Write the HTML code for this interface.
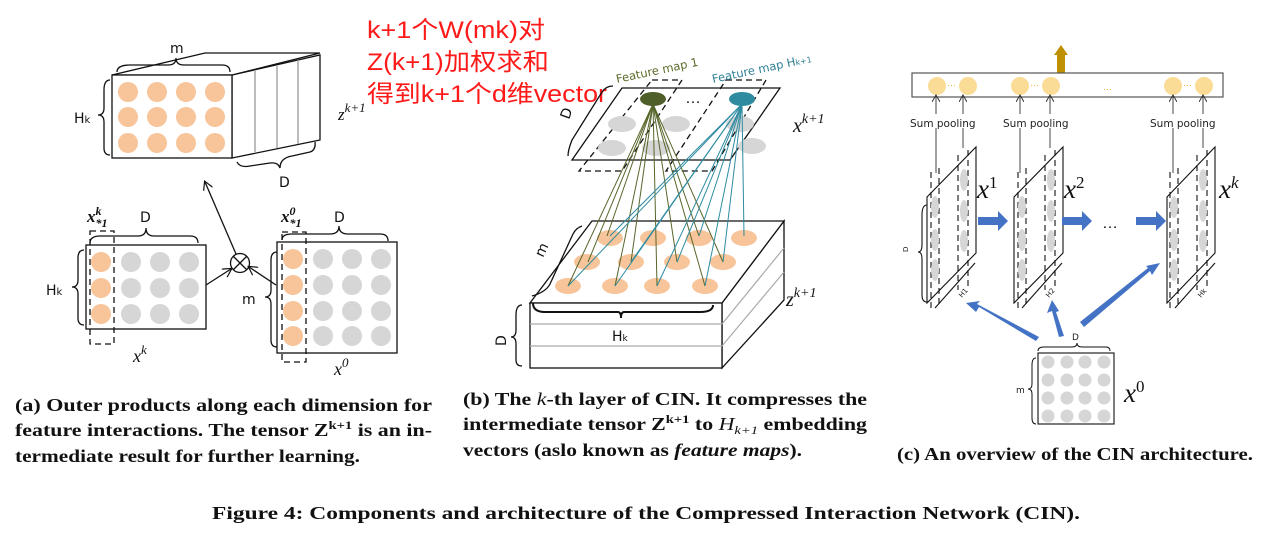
<!DOCTYPE html>
<html><head><meta charset="utf-8"><style>
html,body{margin:0;padding:0;background:#fff;}
svg{display:block;}
.cap{font-family:"Liberation Serif",serif;font-weight:bold;font-size:18px;fill:#111;}
.lbl{font-family:"DejaVu Sans","Liberation Sans",sans-serif;font-size:14px;fill:#111;}
.mx{font-family:"Liberation Serif",serif;font-style:italic;fill:#111;}
</style></head><body>
<svg width="1284" height="544" viewBox="0 0 1284 544" xmlns="http://www.w3.org/2000/svg">
<defs>
<marker id="ah" markerWidth="10" markerHeight="10" refX="8" refY="5" orient="auto" markerUnits="userSpaceOnUse"><path d="M0,0 L9,5 L0,10" fill="none" stroke="#111" stroke-width="1.2"/></marker>
<marker id="ah2" markerWidth="8" markerHeight="8" refX="7" refY="4" orient="auto" markerUnits="userSpaceOnUse"><path d="M0,0 L7,4 L0,8" fill="none" stroke="#333" stroke-width="1"/></marker>
</defs>

<!-- ===== Panel (a) ===== -->
<g stroke="#111" stroke-width="1.3" fill="none">
<polygon points="232,75 320,55 320,140 232,158" fill="#fff"/>
<polygon points="112,75 205,53 320,53 232,75" fill="#fff"/>
<line x1="255" y1="70" x2="255" y2="152" stroke="#999"/>
<line x1="277" y1="65" x2="277" y2="148" stroke="#999"/>
<line x1="298" y1="60" x2="298" y2="144" stroke="#999"/>
<rect x="112" y="75" width="120" height="83" fill="#fff"/>
<path d="M117,72 Q117,65 130,65 L168,65 Q176,65 176,58 Q176,65 184,65 L222,65 Q230,65 230,72"/>
<path d="M110,80 Q104,80 104,90 L104,108 Q104,115 98,115 Q104,115 104,122 L104,148 Q104,155 110,155"/>
<path d="M237,162 Q240,168 250,166 L270,163 Q278,162 280,168 Q280,158 292,156 L310,152 Q316,150 315,142"/>
</g>
<g fill="#f8c49a">
<circle cx="128" cy="92" r="10"/><circle cx="157" cy="92" r="10"/><circle cx="186" cy="92" r="10"/><circle cx="215" cy="92" r="10"/>
<circle cx="128" cy="117" r="10"/><circle cx="157" cy="117" r="10"/><circle cx="186" cy="117" r="10"/><circle cx="215" cy="117" r="10"/>
<circle cx="128" cy="143" r="10"/><circle cx="157" cy="143" r="10"/><circle cx="186" cy="143" r="10"/><circle cx="215" cy="143" r="10"/>
</g>
<text x="170" y="53" class="lbl" font-size="15">m</text>
<text x="74" y="123" class="lbl" font-size="15">H<tspan font-size="10">k</tspan></text>
<text x="279" y="187" class="lbl" font-size="15">D</text>
<text x="338" y="120" class="mx" font-size="17">z<tspan dy="-8" font-size="13">k+1</tspan></text>

<g stroke="#111" stroke-width="1.3" fill="none">
<rect x="86" y="245" width="120" height="84"/>
<rect x="90" y="231" width="24" height="113" stroke-dasharray="6,4"/>
<path d="M90,243 Q90,236 100,236 L138,236 Q146,236 146,228 Q146,236 154,236 L190,236 Q198,236 198,243"/>
<path d="M84,250 Q78,250 78,258 L78,280 Q78,287 72,287 Q78,287 78,294 L78,318 Q78,325 84,325"/>
<rect x="277" y="242" width="120" height="111"/>
<rect x="282" y="232" width="24" height="130" stroke-dasharray="6,4"/>
<path d="M282,240 Q282,234 292,234 L330,234 Q339,234 339,226 Q339,234 348,234 L380,234 Q388,234 388,241"/>
<path d="M277,252 Q271,252 271,260 L271,290 Q271,297 265,297 Q271,297 271,304 L271,340 Q271,347 277,347"/>
<circle cx="240" cy="263" r="9.5"/>
<line x1="233" y1="256" x2="247" y2="270"/><line x1="247" y1="256" x2="233" y2="270"/>
<line x1="206" y1="285" x2="231" y2="269" marker-end="url(#ah)"/>
<line x1="276" y1="285" x2="249" y2="267" marker-end="url(#ah)"/>
<line x1="236" y1="254" x2="205" y2="182" marker-end="url(#ah)"/>
</g>
<g fill="#f8c49a"><circle cx="101" cy="262" r="10"/><circle cx="101" cy="288" r="10"/><circle cx="101" cy="314" r="10"/>
<circle cx="293" cy="259" r="10"/><circle cx="293" cy="285" r="10"/><circle cx="293" cy="311" r="10"/><circle cx="293" cy="336" r="10"/></g>
<g fill="#d6d6d6">
<circle cx="131" cy="262" r="10"/><circle cx="160" cy="262" r="10"/><circle cx="189" cy="262" r="10"/>
<circle cx="131" cy="288" r="10"/><circle cx="160" cy="288" r="10"/><circle cx="189" cy="288" r="10"/>
<circle cx="131" cy="314" r="10"/><circle cx="160" cy="314" r="10"/><circle cx="189" cy="314" r="10"/>
<circle cx="323" cy="259" r="10"/><circle cx="352" cy="259" r="10"/><circle cx="381" cy="259" r="10"/>
<circle cx="323" cy="285" r="10"/><circle cx="352" cy="285" r="10"/><circle cx="381" cy="285" r="10"/>
<circle cx="323" cy="311" r="10"/><circle cx="352" cy="311" r="10"/><circle cx="381" cy="311" r="10"/>
<circle cx="323" cy="336" r="10"/><circle cx="352" cy="336" r="10"/><circle cx="381" cy="336" r="10"/>
</g>
<text x="87" y="222" class="mx" font-weight="bold" font-size="17">x<tspan dy="-7" font-size="12">k</tspan><tspan dx="-6" dy="12" font-size="12">*1</tspan></text>
<text x="140" y="222" class="lbl" font-size="15">D</text>
<text x="46" y="295" class="lbl" font-size="15">H<tspan font-size="10">k</tspan></text>
<text x="133" y="362" class="mx" font-size="18">x<tspan dy="-8" font-size="13">k</tspan></text>
<text x="281" y="222" class="mx" font-weight="bold" font-size="17">x<tspan dy="-7" font-size="12">0</tspan><tspan dx="-6" dy="12" font-size="12">*1</tspan></text>
<text x="334" y="222" class="lbl" font-size="15">D</text>
<text x="242" y="304" class="lbl" font-size="15">m</text>
<text x="334" y="375" class="mx" font-size="18">x<tspan dy="-8" font-size="13">0</tspan></text>

<g font-family="'Liberation Sans','Noto Sans CJK SC',sans-serif" font-size="24" fill="#ff1a1a">
<text x="367" y="38" textLength="178" lengthAdjust="spacingAndGlyphs">k+1个W(mk)对</text>
<text x="367" y="70" textLength="182" lengthAdjust="spacingAndGlyphs">Z(k+1)加权求和</text>
<text x="367" y="102" textLength="240" lengthAdjust="spacingAndGlyphs">得到k+1个d维vector</text>
</g>

<!-- ===== Panel (b) ===== -->
<g stroke="#111" stroke-width="1.3" fill="none">
<polygon points="622,88 780,88 730,160 572,160" fill="#fff"/>
<polygon points="652,80 682,80 622,171 579,171" stroke-dasharray="6,4"/>
<polygon points="726,80 766,80 712,171 666,171" stroke-dasharray="6,4"/>
<path d="M613,86 Q606,86 602,92 L572,140 Q568,150 568,156"/>
</g>
<g fill="#d6d6d6">
<ellipse cx="622" cy="124" rx="14" ry="8"/><ellipse cx="676" cy="124" rx="14" ry="8"/><ellipse cx="740" cy="124" rx="14" ry="8"/>
<ellipse cx="612" cy="148" rx="14" ry="8"/><ellipse cx="656" cy="148" rx="14" ry="8"/><ellipse cx="752" cy="146" rx="14" ry="8"/>
</g>
<text x="685" y="103" font-family="Liberation Sans,sans-serif" font-size="16" fill="#111">…</text>
<text x="617" y="83" transform="rotate(-12 617 83)" font-family="DejaVu Sans,sans-serif" font-size="11.5" fill="#5a6a2a">Feature map 1</text>
<text x="713" y="83" transform="rotate(-12 713 83)" font-family="DejaVu Sans,sans-serif" font-size="11.5" fill="#2e7f95">Feature map H<tspan font-size="8">k+1</tspan></text>
<text x="569" y="120" transform="rotate(-70 569 120)" class="lbl" font-size="13">D</text>
<text x="793" y="132" class="mx" font-size="20">x<tspan dy="-9" font-size="14">k+1</tspan></text>

<g stroke="#111" stroke-width="1.3" fill="#fff">
<polygon points="722,303 784,221 784,300 722,368"/>
<polygon points="592,221 784,221 722,303 530,303"/>
<rect x="530" y="303" width="192" height="65"/>
</g>
<g stroke="#aaa" stroke-width="1.2"><line x1="530" y1="324" x2="722" y2="324"/><line x1="530" y1="346" x2="722" y2="346"/>
<line x1="722" y1="324" x2="784" y2="248"/><line x1="722" y1="346" x2="784" y2="272"/></g>
<g fill="#f8c49a">
<ellipse cx="610" cy="238" rx="13" ry="8"/><ellipse cx="653" cy="238" rx="13" ry="8"/><ellipse cx="699" cy="238" rx="13" ry="8"/><ellipse cx="744" cy="238" rx="13" ry="8"/>
<ellipse cx="587" cy="262" rx="13" ry="8"/><ellipse cx="631" cy="262" rx="13" ry="8"/><ellipse cx="677" cy="262" rx="13" ry="8"/><ellipse cx="723" cy="262" rx="13" ry="8"/>
<ellipse cx="568" cy="286" rx="13" ry="8"/><ellipse cx="615" cy="286" rx="13" ry="8"/><ellipse cx="657" cy="286" rx="13" ry="8"/><ellipse cx="705" cy="286" rx="13" ry="8"/>
</g>
<g stroke="#56662a" stroke-width="1">
<line x1="653" y1="104" x2="607" y2="236"/><line x1="653" y1="104" x2="588" y2="262"/><line x1="653" y1="104" x2="568" y2="286"/>
<line x1="653" y1="104" x2="615" y2="286"/><line x1="653" y1="104" x2="657" y2="286"/><line x1="653" y1="104" x2="677" y2="262"/>
<line x1="653" y1="104" x2="705" y2="286"/><line x1="653" y1="104" x2="723" y2="262"/><line x1="653" y1="104" x2="631" y2="262"/>
<line x1="653" y1="104" x2="699" y2="236"/>
</g>
<g stroke="#2e8ba0" stroke-width="1">
<line x1="742" y1="104" x2="568" y2="286"/><line x1="742" y1="104" x2="610" y2="236"/><line x1="742" y1="104" x2="615" y2="286"/>
<line x1="742" y1="104" x2="631" y2="262"/><line x1="742" y1="104" x2="657" y2="286"/><line x1="742" y1="104" x2="677" y2="262"/>
<line x1="742" y1="104" x2="699" y2="236"/><line x1="742" y1="104" x2="723" y2="262"/><line x1="742" y1="104" x2="744" y2="236"/>
<line x1="742" y1="104" x2="705" y2="286"/>
</g>
<ellipse cx="653" cy="99" rx="13" ry="7" fill="#4f5f2a"/>
<ellipse cx="742" cy="99" rx="13" ry="7" fill="#2e8ba0"/>
<g stroke="#111" stroke-width="1.3" fill="none">
<path d="M533,303 Q533,312 545,312 L618,312 Q621,312 621,318 Q621,312 624,312 L700,312 Q713,312 713,305" stroke-width="2"/>
<path d="M582,226 Q576,228 573,234 L550,284 Q546,292 532,296"/>
<path d="M522,305 Q516,305 516,315 L516,330 Q516,337 511,337 Q516,337 516,344 L516,360 Q516,366 522,366"/>
</g>
<text x="612" y="341" class="lbl" font-size="14">H<tspan font-size="9">k</tspan></text>
<text x="543" y="258" transform="rotate(-65 543 258)" class="lbl" font-size="15">m</text>
<text x="506" y="346" transform="rotate(-90 506 346)" class="lbl" font-size="13">D</text>
<text x="786" y="306" class="mx" font-size="20">z<tspan dy="-9" font-size="14">k+1</tspan></text>

<!-- ===== Panel (c) ===== -->
<polygon points="1057,73 1057,55 1054,55 1061,45 1068,55 1065,55 1065,73" fill="#bf9000"/>
<rect x="912" y="73" width="311" height="24" fill="#fff" stroke="#555" stroke-width="1.2"/>
<g fill="#fbdc96">
<circle cx="937" cy="86" r="9"/><circle cx="968" cy="86" r="9"/><circle cx="1020" cy="86" r="9"/><circle cx="1051" cy="86" r="9"/><circle cx="1173" cy="86" r="9"/><circle cx="1204" cy="86" r="9"/>
</g>
<g fill="#f0b030" font-family="Liberation Sans,sans-serif" font-size="9"><text x="947" y="88">···</text><text x="1030" y="88">···</text><text x="1183" y="88">···</text><text x="1103" y="92">···</text></g>
<g stroke="#444" stroke-width="1" marker-end="url(#ah2)">
<line x1="936" y1="173" x2="936" y2="95"/><line x1="963" y1="148" x2="963" y2="95"/>
<line x1="1020" y1="173" x2="1020" y2="95"/><line x1="1050" y1="148" x2="1050" y2="95"/>
<line x1="1173" y1="173" x2="1173" y2="95"/><line x1="1203" y1="148" x2="1203" y2="95"/>
</g>
<g font-family="DejaVu Sans,sans-serif" font-size="10.5" fill="#222">
<rect x="908" y="114" width="86" height="14" fill="#fff"/><text x="910" y="127">Sum pooling</text>
<rect x="1001" y="114" width="86" height="14" fill="#fff"/><text x="1003" y="127">Sum pooling</text>
<rect x="1148" y="114" width="86" height="14" fill="#fff"/><text x="1150" y="127">Sum pooling</text>
</g>
<g stroke="#111" fill="none" stroke-width="1.1">
<line x1="931" y1="172" x2="931" y2="310" stroke-dasharray="6,4"/><line x1="939" y1="168" x2="939" y2="308" stroke-dasharray="6,4"/>
<line x1="958" y1="155" x2="958" y2="290" stroke-dasharray="6,4"/><line x1="968" y1="150" x2="968" y2="286" stroke-dasharray="6,4"/>
<polygon points="927,197 976,147 976,253 927,303" fill="none"/>
</g>
<g fill="#d6d6d6">
<ellipse cx="935" cy="207" rx="4" ry="11"/><ellipse cx="935" cy="240" rx="4" ry="11"/><ellipse cx="935" cy="270" rx="4" ry="11"/>
<ellipse cx="964" cy="180" rx="4" ry="11"/><ellipse cx="964" cy="211" rx="4" ry="11"/><ellipse cx="964" cy="241" rx="4" ry="11"/>
</g>
<g stroke="#111" fill="none" stroke-width="1.1">
<line x1="1018" y1="172" x2="1018" y2="310" stroke-dasharray="6,4"/><line x1="1026" y1="168" x2="1026" y2="308" stroke-dasharray="6,4"/>
<line x1="1045" y1="155" x2="1045" y2="290" stroke-dasharray="6,4"/><line x1="1055" y1="150" x2="1055" y2="286" stroke-dasharray="6,4"/>
<polygon points="1014,197 1063,147 1063,253 1014,303"/>
<line x1="1170" y1="172" x2="1170" y2="310" stroke-dasharray="6,4"/><line x1="1178" y1="168" x2="1178" y2="308" stroke-dasharray="6,4"/>
<line x1="1197" y1="155" x2="1197" y2="290" stroke-dasharray="6,4"/><line x1="1207" y1="150" x2="1207" y2="286" stroke-dasharray="6,4"/>
<polygon points="1167,197 1215,147 1215,253 1167,303"/>
<path d="M927,205 Q922,205 922,215 L922,245 Q922,252 918,252 Q922,252 922,259 L922,295 Q922,302 927,302"/>
<path d="M935,308 L975,263" /><path d="M1022,308 L1062,263"/><path d="M1175,308 L1215,263"/>
</g>
<g fill="#d6d6d6">
<ellipse cx="1022" cy="207" rx="4" ry="11"/><ellipse cx="1022" cy="240" rx="4" ry="11"/><ellipse cx="1022" cy="270" rx="4" ry="11"/>
<ellipse cx="1051" cy="180" rx="4" ry="11"/><ellipse cx="1051" cy="211" rx="4" ry="11"/><ellipse cx="1051" cy="241" rx="4" ry="11"/>
<ellipse cx="1174" cy="207" rx="4" ry="11"/><ellipse cx="1174" cy="240" rx="4" ry="11"/><ellipse cx="1174" cy="270" rx="4" ry="11"/>
<ellipse cx="1203" cy="180" rx="4" ry="11"/><ellipse cx="1203" cy="211" rx="4" ry="11"/><ellipse cx="1203" cy="241" rx="4" ry="11"/>
</g>
<g font-family="DejaVu Sans,sans-serif" font-size="7" fill="#222">
<text x="908" y="252" transform="rotate(-90 908 252)">D</text>
<text x="962" y="298" transform="rotate(-50 962 298)">H1</text>
<text x="1049" y="298" transform="rotate(-50 1049 298)">H2</text>
<text x="1201" y="298" transform="rotate(-50 1201 298)">Hk</text>
</g>
<text x="977" y="198" class="mx" font-size="27">x<tspan dy="-10" font-size="17" font-style="normal">1</tspan></text>
<text x="1064" y="198" class="mx" font-size="27">x<tspan dy="-10" font-size="17" font-style="normal">2</tspan></text>
<text x="1219" y="198" class="mx" font-size="27">x<tspan dy="-10" font-size="17">k</tspan></text>
<g fill="#4472c4">
<polygon points="978,217 998,217 998,211 1008,221 998,231 998,225 978,225"/>
<polygon points="1062,217 1082,217 1082,211 1092,221 1082,231 1082,225 1062,225"/>
<polygon points="1136,217 1156,217 1156,211 1166,221 1156,231 1156,225 1136,225"/>
<polygon points="1036,341 979,307 976,312 966,303 980,301 977,304 1039,337" />
<polygon points="1059,337 1052,311 1047,313 1052,300 1059,311 1056,312 1064,336"/>
<polygon points="1084,327 1150,271 1152,275 1160,263 1146,266 1148,268 1080,322"/>
</g>
<text x="1102" y="228" font-family="Liberation Sans,sans-serif" font-size="16" fill="#111">…</text>
<rect x="1038" y="353" width="76" height="71" fill="#fff" stroke="#111" stroke-width="1.1"/>
<g fill="#d6d6d6">
<circle cx="1048" cy="362" r="6.5"/><circle cx="1067" cy="362" r="6.5"/><circle cx="1085" cy="362" r="6.5"/><circle cx="1104" cy="362" r="6.5"/>
<circle cx="1048" cy="380" r="6.5"/><circle cx="1067" cy="380" r="6.5"/><circle cx="1085" cy="380" r="6.5"/><circle cx="1104" cy="380" r="6.5"/>
<circle cx="1048" cy="398" r="6.5"/><circle cx="1067" cy="398" r="6.5"/><circle cx="1085" cy="398" r="6.5"/><circle cx="1104" cy="398" r="6.5"/>
<circle cx="1048" cy="416" r="6.5"/><circle cx="1067" cy="416" r="6.5"/><circle cx="1085" cy="416" r="6.5"/><circle cx="1104" cy="416" r="6.5"/>
</g>
<g stroke="#111" fill="none" stroke-width="1">
<path d="M1038,351 Q1038,347 1044,347 L1072,347 Q1077,347 1077,343 Q1077,347 1082,347 L1106,347 Q1110,347 1110,351"/>
<path d="M1036,358 Q1032,358 1032,365 L1032,384 Q1032,389 1028,389 Q1032,389 1032,394 L1032,418 Q1032,424 1036,424"/>
</g>
<text x="1072" y="340" font-family="DejaVu Sans,sans-serif" font-size="9" fill="#222">D</text>
<text x="1016" y="393" font-family="DejaVu Sans,sans-serif" font-size="9" fill="#222">m</text>
<text x="1124" y="402" class="mx" font-size="27">x<tspan dy="-10" font-size="17" font-style="normal">0</tspan></text>

<text x="15" y="411" class="cap" textLength="417" lengthAdjust="spacingAndGlyphs">(a) Outer products along each dimension for</text>
<text x="15" y="436" class="cap" textLength="417" lengthAdjust="spacingAndGlyphs">feature interactions. The tensor Z<tspan dy="-7" font-size="12">k+1</tspan><tspan dy="7"> is an in-</tspan></text>
<text x="15" y="462" class="cap" textLength="345" lengthAdjust="spacingAndGlyphs">termediate result for further learning.</text>
<text x="463" y="405" class="cap" textLength="404" lengthAdjust="spacingAndGlyphs">(b) The <tspan font-style="italic" font-weight="normal">k</tspan>-th layer of CIN. It compresses the</text>
<text x="463" y="430" class="cap" textLength="404" lengthAdjust="spacingAndGlyphs">intermediate tensor Z<tspan dy="-7" font-size="12">k+1</tspan><tspan dy="7"> to </tspan><tspan font-style="italic" font-weight="normal">H</tspan><tspan dy="4" font-size="12" font-weight="normal" font-style="italic">k+1</tspan><tspan dy="-4"> embedding</tspan></text>
<text x="463" y="456" class="cap" textLength="339" lengthAdjust="spacingAndGlyphs">vectors (aslo known as <tspan font-style="italic">feature maps</tspan>).</text>
<text x="897" y="460" class="cap" textLength="356" lengthAdjust="spacingAndGlyphs">(c) An overview of the CIN architecture.</text>
<text x="212" y="519" class="cap" font-size="19" textLength="868" lengthAdjust="spacingAndGlyphs">Figure 4: Components and architecture of the Compressed Interaction Network (CIN).</text>
</svg>
</body></html>
